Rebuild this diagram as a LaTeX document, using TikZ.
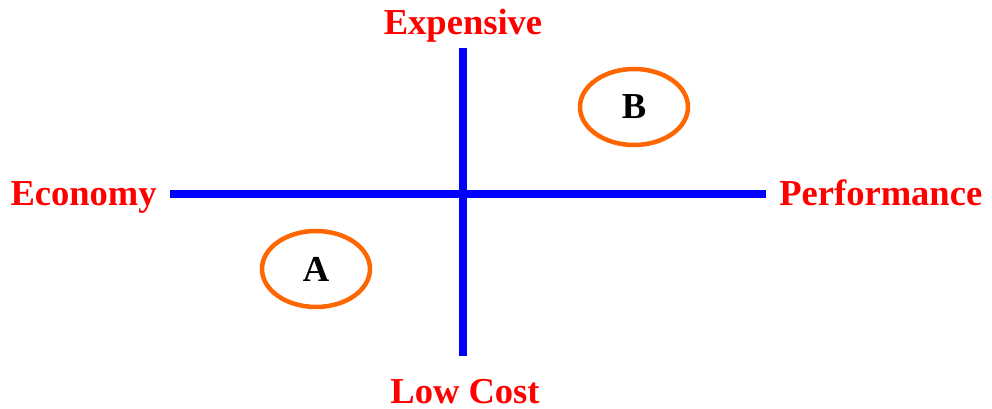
\documentclass[tikz,border=0pt]{standalone}
\usepackage{fontspec}
\setmainfont{Liberation Serif}
\usepackage{tikz}
\usetikzlibrary{shapes.geometric, positioning}
\definecolor{axisblue}{RGB}{0,0,255}
\definecolor{lblred}{RGB}{255,0,0}
\definecolor{ringorange}{RGB}{255,102,0}

\begin{document}
\begin{tikzpicture}[
  axis/.style={draw=axisblue, line width=5pt},
  lbl/.style={font=\fontsize{26}{30}\selectfont\bfseries, text=lblred, inner sep=0pt},
  ring/.style={ellipse, draw=ringorange, line width=3.2pt, inner sep=0pt,
               minimum width=2.7cm, minimum height=1.9cm,
               font=\fontsize{26}{30}\selectfont\bfseries}
]
  \useasboundingbox (0,0) rectangle (24.8,-10.225);
  %% Axis end points
  \coordinate (top)    at (11.575,-1.2);
  \coordinate (bottom) at (11.575,-8.9);
  \coordinate (left)   at (4.25,-4.85);
  \coordinate (right)  at (19.15,-4.85);
  %% Axes
  \draw[axis] (top) -- (bottom);
  \draw[axis] (left) -- (right);
  %% Axis labels
  \node[lbl, anchor=base]      (exp)  at (11.575,-0.875) {Expensive};
  \node[lbl, anchor=base]      (low)  at (11.625,-10.075) {Low Cost};
  \node[lbl, anchor=base east] (eco)  at (3.925,-5.15) {Economy};
  \node[lbl, anchor=base west] (perf) at (19.475,-5.15) {Performance};
  %% Products
  \node[ring] (b) at (15.85,-2.675) {B};
  \node[ring] (a) at (7.9,-6.725)  {A};
\end{tikzpicture}
\end{document}
